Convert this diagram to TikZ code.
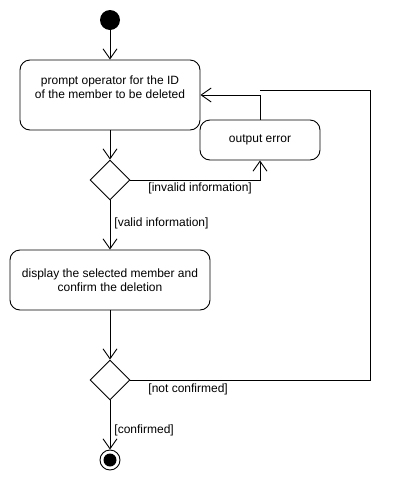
\documentclass[tikz,border=0pt]{standalone}
\usepackage{fontspec}
\setmainfont{Liberation Sans}
\usetikzlibrary{arrows.meta,shapes.geometric}
\begin{document}
\begin{tikzpicture}[x=1pt,y=-1pt,line width=0.9pt,
  flow/.style={-{Straight Barb[length=10pt,width=14pt,line width=0.9pt]}},
  act/.style={draw,rounded corners=10pt,inner sep=0pt},
  dec/.style={draw,diamond,minimum width=40pt,minimum height=40pt,inner sep=0pt},
  lbl/.style={font=\fontsize{12}{14}\selectfont,inner sep=0pt,anchor=west},
  txt/.style={font=\fontsize{12}{14}\selectfont,align=center,inner sep=0pt}]
\useasboundingbox (0,0) rectangle (400,480);
\node[circle,fill=black,minimum size=20pt,inner sep=0pt] (start) at (110,20) {};
\node[act,minimum width=180pt,minimum height=70pt] (b1) at (110,95) {};
\node[txt] at (110,87) {prompt operator for the ID\\of the member to be deleted};
\node[act,minimum width=120pt,minimum height=40pt] (err) at (260,140) {};
\node[txt] at (260,140) {output error};
\node[dec] (d1) at (110,180) {};
\node[act,minimum width=200pt,minimum height=60pt] (b2) at (110,280) {};
\node[txt] at (110,280) {display the selected member and\\confirm the deletion};
\node[dec] (d2) at (110,380) {};
\node[circle,draw,minimum size=20pt,inner sep=0pt] (end) at (110,460) {};
\node[circle,fill=black,minimum size=13pt,inner sep=0pt] at (end.center) {};
\coordinate (j) at (260,90);
\coordinate (r) at (370,90);
\draw[flow] (start) -- (b1);
\draw[flow] (b1) -- (d1);
\draw[flow] (d1.east) -| (err.south);
\draw[flow] (err.north) |- (b1.east);
\draw[flow] (d1.south) -- (b2.north);
\draw[flow] (b2.south) -- (d2.north);
\draw (d2.east) -| (r) -- (j);
\draw[flow] (d2.south) -- (end.north);
\node[lbl] at (148,188) {[invalid information]};
\node[lbl] at (114,223) {[valid information]};
\node[lbl] at (148,389) {[not confirmed]};
\node[lbl] at (114,430) {[confirmed]};
\end{tikzpicture}
\end{document}
